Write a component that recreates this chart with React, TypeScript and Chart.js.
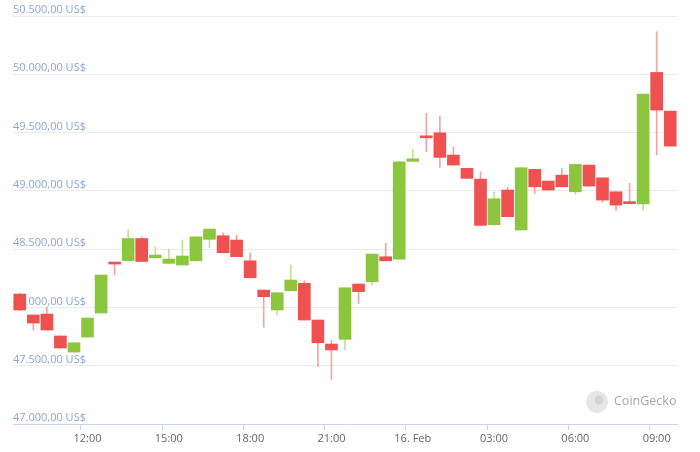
import React, { useEffect, useRef } from "react";
import { Chart, registerables } from "chart.js";

Chart.register(...registerables);

const times = [
  "09:30", "10:00", "10:30", "11:00", "11:30", "12:00", "12:30", "13:00", "13:30", "14:00",
  "14:30", "15:00", "15:30", "16:00", "16:30", "17:00", "17:30", "18:00", "18:30", "19:00",
  "19:30", "20:00", "20:30", "21:00", "21:30", "22:00", "22:30", "23:00", "23:30", "00:00",
  "00:30", "01:00", "01:30", "02:00", "02:30", "03:00", "03:30", "04:00", "04:30", "05:00",
  "05:30", "06:00", "06:30", "07:00", "07:30", "08:00", "08:30", "09:00", "09:30",
];

const opens = [
  48115, 47935, 47943, 47755, 47617, 47746, 47952, 48381, 48402, 48591,
  48426, 48378, 48364, 48400, 48584, 48615, 48578, 48400, 48149, 47978,
  48143, 48207, 47892, 47686, 47726, 48201, 48220, 48435, 48415, 49253,
  49470, 49498, 49307, 49193, 49101, 48709, 49007, 48664, 49184, 49084,
  49135, 48992, 49221, 49112, 48992, 48895, 48887, 50016, 49684,
];
const highs = [
  48120, 47935, 48003, 47755, 47697, 47909, 48278, 48385, 48664, 48606,
  48520, 48501, 48578, 48606, 48672, 48640, 48621, 48466, 48149, 48126,
  48364, 48229, 47892, 47720, 48169, 48201, 48458, 48550, 49250, 49356,
  49665, 49642, 49378, 49193, 49164, 48992, 49030, 49198, 49184, 49084,
  49193, 49227, 49221, 49112, 48992, 49064, 49830, 50365, 49684,
];
const lows = [
  47975, 47806, 47806, 47652, 47617, 47746, 47952, 48278, 48402, 48394,
  48426, 48378, 48364, 48400, 48512, 48469, 48435, 48255, 47829, 47935,
  48143, 47892, 47491, 47383, 47635, 48035, 48192, 48400, 48415, 49253,
  49335, 49201, 49221, 49107, 48704, 48709, 48778, 48664, 48978, 49007,
  49035, 48970, 49041, 48901, 48835, 48890, 48835, 49307, 49384,
];
const closes = [
  47978, 47866, 47806, 47652, 47697, 47909, 48278, 48372, 48591, 48394,
  48449, 48415, 48441, 48606, 48672, 48469, 48435, 48255, 48092, 48126,
  48235, 47892, 47697, 47635, 48169, 48135, 48458, 48400, 49250, 49275,
  49455, 49287, 49221, 49107, 48704, 48932, 48778, 49198, 49035, 49007,
  49035, 49227, 49041, 48921, 48878, 48890, 49830, 49693, 49384,
];

const tickTimes = ["12:00", "15:00", "18:00", "21:00", "00:00", "03:00", "06:00", "09:00"];
const tickLabels = ["12:00", "15:00", "18:00", "21:00", "16. Feb", "03:00", "06:00", "09:00"];

const RED = "#ef5050";
const GREEN = "#8cc63f";
const RED_WICK = "#f4a3a3";
const GREEN_WICK = "#c2e09a";

function fmt(v: number): string {
  const fixed = Math.abs(v).toFixed(2);
  const [intPart, dec] = fixed.split(".");
  const withDots = intPart.replace(/\B(?=(\d{3})+(?!\d))/g, ".");
  return (v < 0 ? "-" : "") + withDots + "," + dec + " US$";
}

const watermark = {
  id: "watermark",
  beforeDatasetsDraw(chart: any) {
    const { ctx, chartArea } = chart;
    const cx = chartArea.right - 80;
    const cy = chartArea.bottom - 22;
    ctx.save();
    ctx.beginPath();
    ctx.arc(cx, cy, 11, 0, Math.PI * 2);
    ctx.fillStyle = "#e6e6e6";
    ctx.fill();
    ctx.beginPath();
    ctx.arc(cx + 2, cy - 2, 4.5, 0, Math.PI * 2);
    ctx.fillStyle = "#d4d4d4";
    ctx.fill();
    ctx.font = "12.5px 'Open Sans', sans-serif";
    ctx.fillStyle = "#a6a6a6";
    ctx.textBaseline = "middle";
    ctx.textAlign = "left";
    ctx.fillText("CoinGecko", cx + 17, cy - 1);
    ctx.restore();
  },
};

export default function App() {
  const ref = useRef<HTMLCanvasElement>(null);

  useEffect(() => {
    if (!ref.current) return;
    const up = opens.map((o, i) => closes[i] >= o);
    const colors = up.map((u) => (u ? GREEN : RED));
    const wickColors = up.map((u) => (u ? GREEN_WICK : RED_WICK));
    const chart = new Chart(ref.current, {
      type: "bar",
      data: {
        labels: times,
        datasets: [
          {
            label: "body",
            data: opens.map((o, i) => [Math.min(o, closes[i]), Math.max(o, closes[i])]) as any,
            backgroundColor: colors,
            barThickness: 12,
            minBarLength: 2,
            grouped: false,
            order: 0,
          },
          {
            label: "wick",
            data: lows.map((l, i) => [l, highs[i]]) as any,
            backgroundColor: wickColors,
            barThickness: 1,
            grouped: false,
            order: 1,
          },
        ],
      },
      plugins: [watermark],
      options: {
        animation: false,
        responsive: false,
        maintainAspectRatio: false,
        layout: { padding: { left: 13, right: 23, top: 16, bottom: 0 } },
        plugins: {
          legend: { display: false },
          tooltip: { enabled: false },
        },
        scales: {
          x: {
            type: "category",
            offset: true,
            afterFit: (scale: any) => {
              scale.height = 28;
            },
            border: { display: true, color: "#ccd6eb", width: 1 },
            grid: {
              drawOnChartArea: false,
              drawTicks: true,
              tickLength: 6,
              color: (ctx: any) => {
                const lbl = times[ctx.index];
                return tickTimes.includes(lbl) ? "#ccd6eb" : "rgba(0,0,0,0)";
              },
            },
            ticks: {
              autoSkip: false,
              maxRotation: 0,
              padding: 2,
              color: "#666666",
              font: { family: "'Open Sans', sans-serif", size: 11 },
              callback: (_v: any, index: number) => {
                const j = tickTimes.indexOf(times[index]);
                return j >= 0 ? tickLabels[j] : "";
              },
            },
          },
          y: {
            min: 47000,
            max: 50500,
            afterFit: (scale: any) => {
              scale.width = 0;
            },
            border: { display: false },
            grid: { color: "#ebebeb", drawTicks: false },
            ticks: {
              stepSize: 500,
              mirror: true,
              padding: 0,
              labelOffset: -6,
              color: "#8aa6d4",
              font: { family: "'Open Sans', sans-serif", size: 11 },
              callback: (v: any) => fmt(Number(v)),
            },
          },
        },
      },
    });
    return () => chart.destroy();
  }, []);

  return (
    <div style={{ position: "fixed", left: 0, top: 0, width: 700, height: 452, background: "#fff" }}>
      <canvas ref={ref} width={700} height={452} style={{ width: 700, height: 452 }} />
    </div>
  );
}
